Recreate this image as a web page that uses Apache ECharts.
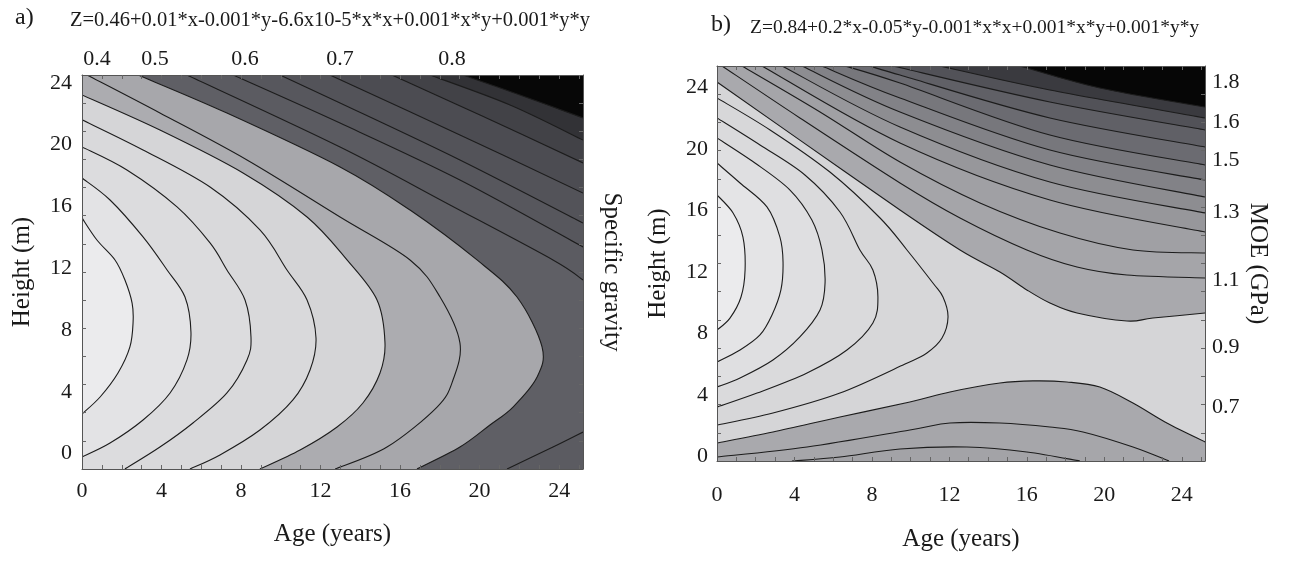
<!DOCTYPE html>
<html><head><meta charset="utf-8">
<script src="https://cdn.jsdelivr.net/npm/echarts@6/dist/echarts.min.js"></script>
<style>html,body{margin:0;padding:0;background:#fff}#c{width:1293px;height:563px}</style>
</head><body><div id="c"></div>
<script>
// ---------------- data ----------------
const formulaA = 'Z=0.46+0.01*x-0.001*y-6.6x10-5*x*x+0.001*x*y+0.001*y*y';
const formulaB = 'Z=0.84+0.2*x-0.05*y-0.001*x*x+0.001*x*y+0.001*y*y';
const ageTicks = [0, 4, 8, 12, 16, 20, 24];
const heightTicks = [0, 4, 8, 12, 16, 20, 24];
const sgAgeRange = [0, 25.2];
const sgHeightRange = [-1, 24.5];
const moeAgeRange = [0, 25.2];
const moeHeightRange = [-0.3, 25.4];
const sgLevelLabels = ['0.4', '0.5', '0.6', '0.7', '0.8'];
const sgLevelLabelAge = [0.75, 3.67, 8.2, 12.98, 18.61];
const moeLevelLabels = ['1.8', '1.6', '1.5', '1.3', '1.1', '0.9', '0.7'];
const moeLevelLabelHeight = [24.36, 21.76, 19.28, 15.9, 11.48, 7.12, 3.21];

// specific gravity contour lines [age, height], ordered low -> high level
const sgContours = [
  [[0,15.25],[0.75,13.82],[1.66,12.53],[2.16,11.23],[2.52,9.74],[2.57,8.51],[2.41,6.9],[1.81,5.21],[0.91,3.66],[0,2.56]],
  [[0,17.83],[1.41,16.41],[3.07,14.02],[4.28,11.88],[5.18,10.13],[5.48,7.87],[5.28,6.06],[4.43,3.92],[3.07,2.17],[1.41,0.68],[0,-0.22]],
  [[0,19.84],[2.26,18.35],[4.78,15.96],[6.44,13.63],[7.29,11.88],[8.2,9.94],[8.5,7.54],[8.3,6.06],[7.29,3.92],[5.58,1.98],[3.92,0.42],[2.16,-1]],
  [[0,21.6],[3.07,19.65],[6.44,17.25],[8.95,14.47],[10.31,11.88],[11.32,9.94],[11.77,7.48],[11.47,5.41],[10.61,3.47],[8.95,1.52],[6.94,-0.09],[5.43,-1]],
  [[0,23.21],[3.92,20.94],[8.1,18.16],[11.32,15.31],[13.33,12.53],[14.84,9.94],[15.24,7.16],[14.99,5.21],[14.13,3.27],[12.83,1.72],[10.97,0.23],[8.95,-1]],
  [[0.25,24.5],[3.92,22.04],[8.3,19.0],[12.98,15.31],[16.5,12.53],[18.01,10.13],[19.01,7.16],[18.66,4.76],[17.86,3.01],[15.34,0.42],[12.73,-1]],
  [[2.82,24.5],[7.29,22.04],[12.98,18.55],[16.5,15.76],[19.87,12.53],[21.88,10.13],[23.14,6.9],[22.89,4.95],[21.68,3.01],[20.52,1.85],[19.01,0.42],[16.85,-1]],
  [[5.28,24.5],[12.98,19.84],[18.51,16.09],[23.69,12.53],[25.2,11.23]],
  [[25.2,1.39],[23.69,0.42],[21.38,-1]],
  [[7.6,24.5],[12.98,21.39],[19.01,17.71],[25.2,13.37]],
  [[9.96,24.5],[12.98,22.69],[19.01,19.0],[25.2,14.92]],
  [[12.47,24.5],[19.01,20.62],[25.2,16.86]],
  [[15.59,24.5],[20.02,21.91],[25.2,18.81]],
  [[17.5,24.5],[21.53,22.56],[25.2,20.29]],
  [[19.16,24.5],[22.03,23.21],[25.2,21.72]]
];

// MOE contour lines [age, height], ordered low -> high level
const moeContours = [
  [[0,17.01],[0.83,15.84],[1.34,14.27],[1.45,12.13],[1.24,10.37],[0.67,9.0],[0,8.22]],
  [[0,19.09],[1.19,17.79],[2.58,16.23],[3.25,14.27],[3.41,12.65],[3.3,10.83],[2.84,9.2],[2.22,7.9],[1.19,6.92],[0,6.14]],
  [[0,20.72],[1.96,19.09],[3.77,17.33],[4.9,15.38],[5.42,13.43],[5.58,11.28],[5.32,9.52],[4.28,7.77],[2.89,6.27],[1.19,5.1],[0,4.51]],
  [[0,22.02],[2.22,20.26],[4.54,18.31],[6.35,15.9],[7.38,13.43],[8.05,12.13],[8.31,10.37],[8.05,8.68],[6.71,6.92],[4.65,5.43],[2.07,4.12],[0,3.21]],
  [[0,23.32],[2.74,21.24],[5.83,18.5],[8.42,15.51],[9.81,13.43],[11.15,11.28],[11.67,10.37],[11.93,9.07],[11.62,7.7],[10.84,6.73],[9.71,6.01],[6.35,4.12],[2.89,2.82],[0,2.04]],
  [[0,24.36],[4.28,20.58],[9.45,16.03],[12.55,13.43],[14.61,12.0],[16.0,10.83],[17.19,9.98],[18.59,9.33],[21.17,8.81],[22.51,9.0],[25.2,9.33]],
  [[25.2,0.94],[23.23,2.17],[21.48,3.47],[19.77,4.51],[18.07,4.84],[16.31,4.91],[14.61,4.77],[12.03,4.19],[9.96,3.54],[6.35,2.56],[2.89,1.59],[0,0.87]],
  [[0.26,25.4],[4.28,22.02],[9.45,17.79],[12.55,15.51],[16.0,13.43],[18.59,12.32],[21.17,11.8],[25.2,11.61]],
  [[23.34,-0.3],[21.48,0.61],[18.9,1.59],[17.19,1.91],[14.61,2.17],[12.03,2.17],[9.96,1.72],[4.65,0.61],[0,-0.04]],
  [[1.29,25.4],[5.32,22.41],[9.45,19.15],[13.58,16.49],[17.71,14.53],[21.48,13.43],[25.2,13.23]],
  [[18.74,-0.3],[16.0,0.29],[12.91,0.61],[9.45,0.48],[6.35,-0.04],[3.87,-0.3]],
  [[2.32,25.4],[9.45,20.39],[17.19,16.68],[25.2,14.6]],
  [[3.36,25.4],[9.45,21.43],[17.19,17.85],[25.2,15.84]],
  [[4.39,25.4],[9.45,22.41],[17.19,18.96],[25.2,16.88]],
  [[5.42,25.4],[9.45,23.32],[17.19,19.93],[25.2,17.98]],
  [[6.61,25.4],[9.45,24.29],[17.19,20.91],[25.2,18.96]],
  [[7.9,25.4],[9.45,24.81],[17.19,22.02],[25.2,20.13]],
  [[9.09,25.4],[17.19,23.06],[25.2,21.24]],
  [[11.51,25.4],[17.19,23.84],[25.2,22.02]],
  [[15.64,25.4],[19.77,23.97],[25.2,22.73]]
];

// ---------------- styles ----------------
const sgBase = '#ebebed';
const sgBandColors = ['#e3e3e5','#dcdcde','#d9d9db','#d5d5d7','#acacb0','#a7a7ab','#5f5f65','#5b5b61','#5b5b61','#57575d','#535359','#4c4c52','#424247','#323236','#070707'];
const moeBase = '#ebebed';
const moeBandColors = ['#e4e4e6','#dfdfe1','#dadadc','#d7d7d9','#d5d5d7','#a9a9ad','#a9a9ad','#a5a5a9','#a6a6aa','#a0a0a4','#a3a3a7','#97979b','#8d8d91','#828287','#77777c','#6b6b71','#606066','#525258','#3a3a3f','#060606'];
const FONT = "'Liberation Serif','Times New Roman',serif";
const TXT = '#1a1a1a';

function range(a, b, n) { const o = []; for (let k = 1; k < n; k++) o.push(a + k * (b - a) / n); return o; }
function steps(a, b, s) { const o = []; for (let v = a; v <= b + 1e-9; v += s) o.push(v); return o; }

function crPath(P) {
  let d = 'M' + P[0][0] + ' ' + P[0][1];
  for (let i = 0; i < P.length - 1; i++) {
    const p0 = P[i - 1] || P[i], p1 = P[i], p2 = P[i + 1], p3 = P[i + 2] || P[i + 1];
    const c1 = [p1[0] + (p2[0] - p0[0]) / 6, p1[1] + (p2[1] - p0[1]) / 6];
    const c2 = [p2[0] - (p3[0] - p1[0]) / 6, p2[1] - (p3[1] - p1[1]) / 6];
    d += ' C' + c1[0] + ' ' + c1[1] + ' ' + c2[0] + ' ' + c2[1] + ' ' + p2[0] + ' ' + p2[1];
  }
  return d;
}
function edgeT(p, r) {
  const dB = Math.abs(p[1] - (r.y + r.height)), dR = Math.abs(p[0] - (r.x + r.width)),
        dT = Math.abs(p[1] - r.y), dL = Math.abs(p[0] - r.x);
  const m = Math.min(dB, dR, dT, dL);
  if (m === dB) return (p[0] - r.x) / r.width;
  if (m === dR) return 1 + (r.y + r.height - p[1]) / r.height;
  if (m === dT) return 2 + (r.x + r.width - p[0]) / r.width;
  return 3 + (p[1] - r.y) / r.height;
}
function walkCorners(tE, tS, r) {
  const C = [[r.x, r.y + r.height], [r.x + r.width, r.y + r.height], [r.x + r.width, r.y], [r.x, r.y]];
  if (tS <= tE) tS += 4;
  const out = [];
  for (let k = Math.floor(tE) + 1; k < tS; k++) out.push(C[k % 4]);
  return out;
}
function contourSeries(lines, colors, xi, yi) {
  return {
    type: 'custom', coordinateSystem: 'cartesian2d', xAxisIndex: xi, yAxisIndex: yi,
    clip: true, silent: true, animation: false,
    data: lines.map((_, i) => [i, 0]),
    renderItem: function (params, api) {
      const i = params.dataIndex, r = params.coordSys;
      const P = lines[i].map(p => api.coord(p));
      const curve = crPath(P);
      const tS = edgeT(P[0], r), tE = edgeT(P[P.length - 1], r);
      let fillD = curve;
      walkCorners(tE, tS, r).forEach(c => { fillD += ' L' + c[0] + ' ' + c[1]; });
      fillD += ' Z';
      return { type: 'group', children: [
        { type: 'path', shape: { pathData: fillD }, style: { fill: colors[i], stroke: null } },
        { type: 'path', shape: { pathData: curve }, style: { fill: 'none', stroke: '#1c1c1c', lineWidth: 1.1 } }
      ] };
    }
  };
}
function nearestLabel(vals, texts) {
  return function (v) {
    let bi = 0, bd = Infinity;
    vals.forEach((x, i) => { const d = Math.abs(x - v); if (d < bd) { bd = d; bi = i; } });
    return texts[bi];
  };
}
const lineStyle = { color: '#555', width: 1 };
const tickStyle = { color: '#666', width: 1 };
function axisBase(gi, rng, pos, ticks) {
  return {
    gridIndex: gi, type: 'value', position: pos, min: rng[0], max: rng[1], z: 10,
    axisLine: { show: true, onZero: false, lineStyle: lineStyle },
    axisTick: { show: true, inside: true, length: 4, customValues: ticks, lineStyle: tickStyle },
    axisLabel: { show: false },
    splitLine: { show: false }
  };
}
function withLabels(ax, vals, fmt, margin) {
  ax.axisLabel = { show: true, customValues: vals, margin: margin, fontFamily: FONT, fontSize: 22, color: TXT };
  if (fmt) ax.axisLabel.formatter = fmt;
  return ax;
}
function withName(ax, name, gap, rot) {
  ax.name = name; ax.nameLocation = 'middle'; ax.nameGap = gap;
  if (rot !== undefined) ax.nameRotate = rot;
  ax.nameTextStyle = { fontFamily: FONT, fontSize: 25, color: TXT };
  return ax;
}

const ageMinor = steps(1, 25, 1);
const sgHMinor = range(sgHeightRange[0], sgHeightRange[1], 14);
const moeHMinor = range(moeHeightRange[0], moeHeightRange[1], 14);

const option = {
  animation: false,
  backgroundColor: '#ffffff',
  title: [
    { text: 'a)', left: 10, top: 1, textStyle: { fontFamily: FONT, fontSize: 24, fontWeight: 'normal', color: TXT } },
    { text: formulaA, left: 65, top: 5, textStyle: { fontFamily: FONT, fontSize: 20.5, fontWeight: 'normal', color: TXT } },
    { text: 'b)', left: 706, top: 8, textStyle: { fontFamily: FONT, fontSize: 24, fontWeight: 'normal', color: TXT } },
    { text: formulaB, left: 745, top: 13, textStyle: { fontFamily: FONT, fontSize: 19.5, fontWeight: 'normal', color: TXT } }
  ],
  grid: [
    { left: 82, top: 75, width: 501, height: 394, show: true, backgroundColor: sgBase, borderWidth: 0 },
    { left: 717, top: 66, width: 488, height: 395, show: true, backgroundColor: moeBase, borderWidth: 0 }
  ],
  xAxis: [
    withName(withLabels(axisBase(0, sgAgeRange, 'bottom', ageMinor), ageTicks, null, 11), 'Age (years)', 53),
    withLabels(axisBase(0, sgAgeRange, 'top', ageMinor), sgLevelLabelAge, nearestLabel(sgLevelLabelAge, sgLevelLabels), 5),
    withName(withLabels(axisBase(1, moeAgeRange, 'bottom', ageMinor), ageTicks, null, 23), 'Age (years)', 66),
    axisBase(1, moeAgeRange, 'top', ageMinor)
  ],
  yAxis: [
    withName(withLabels(axisBase(0, sgHeightRange, 'left', sgHMinor), heightTicks, null, 10), 'Height (m)', 47, 90),
    withName(axisBase(0, sgHeightRange, 'right', sgHMinor), 'Specific gravity', 16, -90),
    withName(withLabels(axisBase(1, moeHeightRange, 'left', moeHMinor), heightTicks, null, 9), 'Height (m)', 46, 90),
    withName(withLabels(axisBase(1, moeHeightRange, 'right', moeHMinor), moeLevelLabelHeight, nearestLabel(moeLevelLabelHeight, moeLevelLabels), 7), 'MOE (GPa)', 40, -90)
  ],
  series: [
    contourSeries(sgContours, sgBandColors, 0, 0),
    contourSeries(moeContours, moeBandColors, 2, 2)
  ]
};
const chart = echarts.init(document.getElementById('c'), null, { renderer: 'canvas' });
chart.setOption(option);
</script>
</body></html>
